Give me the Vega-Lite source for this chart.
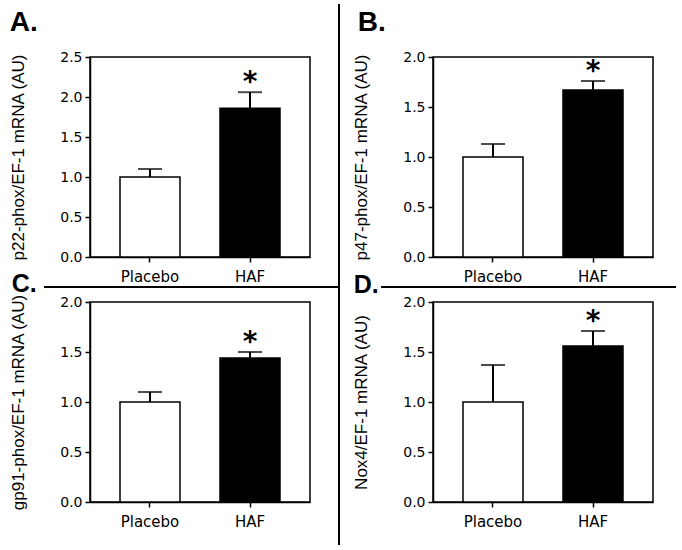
{
  "$schema": "https://vega.github.io/schema/vega-lite/v6.json",
  "padding": {"left": 8, "top": 3, "right": 5, "bottom": 5},
  "background": "white",
  "bounds": "flush",
  "columns": 3,
  "spacing": {"row": 15, "column": 29},
  "datasets": {
    "mrna": [
      {"panel": "A", "group": "Placebo", "mean": 1.0, "upper": 1.1},
      {"panel": "A", "group": "HAF", "mean": 1.86, "upper": 2.06},
      {"panel": "B", "group": "Placebo", "mean": 1.0, "upper": 1.13},
      {"panel": "B", "group": "HAF", "mean": 1.67, "upper": 1.76},
      {"panel": "C", "group": "Placebo", "mean": 1.0, "upper": 1.1},
      {"panel": "C", "group": "HAF", "mean": 1.44, "upper": 1.5},
      {"panel": "D", "group": "Placebo", "mean": 1.0, "upper": 1.37},
      {"panel": "D", "group": "HAF", "mean": 1.56, "upper": 1.71}
    ]
  },
  "concat": [
    {
      "title": {"text": "A.", "offset": 13, "dx": 0},
      "width": 220, "height": 200,
      "data": {"name": "mrna"},
      "transform": [{"filter": "datum.panel === 'A'"}],
      "encoding": {
        "x": {"field": "group", "type": "nominal", "sort": ["Placebo", "HAF"], "title": null, "scale": {"paddingInner": 0.4, "paddingOuter": 0.3}, "axis": {"labelAngle": 0}},
        "y": {"field": "mean", "type": "quantitative", "title": "p22-phox/EF-1 mRNA (AU)", "scale": {"domain": [0, 2.5], "nice": false}, "axis": {"values": [0, 0.5, 1, 1.5, 2, 2.5], "tickCount": 6, "format": ".1f", "labelOverlap": false}}
      },
      "layer": [
        {"mark": {"type": "bar", "stroke": "black", "strokeWidth": 1.5},
         "encoding": {"fill": {"field": "group", "type": "nominal", "scale": {"domain": ["Placebo", "HAF"], "range": ["#ffffff", "#000000"]}, "legend": null}}},
        {"mark": {"type": "rule", "strokeWidth": 2, "color": "black"}, "encoding": {"y2": {"field": "upper"}}},
        {"mark": {"type": "tick", "size": 24, "thickness": 2, "color": "black"}, "encoding": {"y": {"field": "upper", "type": "quantitative"}}},
        {"transform": [{"filter": "datum.group === 'HAF'"}], "mark": {"type": "text", "text": "*", "font": "DejaVu Sans", "fontWeight": "bold", "fontSize": 28, "baseline": "alphabetic", "dy": -1, "color": "black"}, "encoding": {"y": {"field": "upper", "type": "quantitative"}}}
      ]
    },
    {
      "width": 65, "height": 200,
      "view": {"stroke": null},
      "data": {"values": [{"x": 0, "y1": -1.44, "y2": 1.265}]},
      "mark": {"type": "rule", "strokeWidth": 2, "color": "black", "clip": false},
      "encoding": {
        "x": {"field": "x", "type": "quantitative", "scale": {"domain": [0, 1], "nice": false}, "axis": null},
        "y": {"field": "y1", "type": "quantitative", "scale": {"domain": [0, 1], "nice": false, "zero": false}, "axis": null},
        "y2": {"field": "y2"}
      }
    },
    {
      "title": {"text": "B.", "offset": 13, "dx": 5},
      "width": 220, "height": 200,
      "data": {"name": "mrna"},
      "transform": [{"filter": "datum.panel === 'B'"}],
      "encoding": {
        "x": {"field": "group", "type": "nominal", "sort": ["Placebo", "HAF"], "title": null, "scale": {"paddingInner": 0.4, "paddingOuter": 0.3}, "axis": {"labelAngle": 0}},
        "y": {"field": "mean", "type": "quantitative", "title": "p47-phox/EF-1 mRNA (AU)", "scale": {"domain": [0, 2.0], "nice": false}, "axis": {"values": [0, 0.5, 1, 1.5, 2], "format": ".1f", "labelOverlap": false}}
      },
      "layer": [
        {"mark": {"type": "bar", "stroke": "black", "strokeWidth": 1.5},
         "encoding": {"fill": {"field": "group", "type": "nominal", "scale": {"domain": ["Placebo", "HAF"], "range": ["#ffffff", "#000000"]}, "legend": null}}},
        {"mark": {"type": "rule", "strokeWidth": 2, "color": "black"}, "encoding": {"y2": {"field": "upper"}}},
        {"mark": {"type": "tick", "size": 24, "thickness": 2, "color": "black"}, "encoding": {"y": {"field": "upper", "type": "quantitative"}}},
        {"transform": [{"filter": "datum.group === 'HAF'"}], "mark": {"type": "text", "text": "*", "font": "DejaVu Sans", "fontWeight": "bold", "fontSize": 28, "baseline": "alphabetic", "dy": -1, "color": "black"}, "encoding": {"y": {"field": "upper", "type": "quantitative"}}}
      ]
    },
    {
      "width": 220, "height": 15,
      "view": {"stroke": null},
      "data": {"values": [{"x1": -0.209, "x2": 1.132, "y": 0}]},
      "mark": {"type": "rule", "strokeWidth": 2, "color": "black", "clip": false},
      "encoding": {
        "x": {"field": "x1", "type": "quantitative", "scale": {"domain": [0, 1], "nice": false, "zero": false}, "axis": null},
        "x2": {"field": "x2"},
        "y": {"field": "y", "type": "quantitative", "scale": {"domain": [0, 1], "nice": false}, "axis": null}
      }
    },
    {
      "width": 65, "height": 15,
      "view": {"stroke": null},
      "data": {"values": []},
      "mark": {"type": "rule", "clip": false},
      "encoding": {}
    },
    {
      "width": 220, "height": 15,
      "view": {"stroke": null},
      "data": {"values": [{"x1": -0.236, "x2": 1.105, "y": 0}]},
      "mark": {"type": "rule", "strokeWidth": 2, "color": "black", "clip": false},
      "encoding": {
        "x": {"field": "x1", "type": "quantitative", "scale": {"domain": [0, 1], "nice": false, "zero": false}, "axis": null},
        "x2": {"field": "x2"},
        "y": {"field": "y", "type": "quantitative", "scale": {"domain": [0, 1], "nice": false}, "axis": null}
      }
    },
    {
      "title": {"text": "C.", "offset": -3, "fontSize": 25, "dx": 2},
      "width": 220, "height": 200,
      "data": {"name": "mrna"},
      "transform": [{"filter": "datum.panel === 'C'"}],
      "encoding": {
        "x": {"field": "group", "type": "nominal", "sort": ["Placebo", "HAF"], "title": null, "scale": {"paddingInner": 0.4, "paddingOuter": 0.3}, "axis": {"labelAngle": 0}},
        "y": {"field": "mean", "type": "quantitative", "title": "gp91-phox/EF-1 mRNA (AU)", "scale": {"domain": [0, 2.0], "nice": false}, "axis": {"values": [0, 0.5, 1, 1.5, 2], "format": ".1f", "labelOverlap": false}}
      },
      "layer": [
        {"mark": {"type": "bar", "stroke": "black", "strokeWidth": 1.5},
         "encoding": {"fill": {"field": "group", "type": "nominal", "scale": {"domain": ["Placebo", "HAF"], "range": ["#ffffff", "#000000"]}, "legend": null}}},
        {"mark": {"type": "rule", "strokeWidth": 2, "color": "black"}, "encoding": {"y2": {"field": "upper"}}},
        {"mark": {"type": "tick", "size": 24, "thickness": 2, "color": "black"}, "encoding": {"y": {"field": "upper", "type": "quantitative"}}},
        {"transform": [{"filter": "datum.group === 'HAF'"}], "mark": {"type": "text", "text": "*", "font": "DejaVu Sans", "fontWeight": "bold", "fontSize": 28, "baseline": "alphabetic", "dy": -1, "color": "black"}, "encoding": {"y": {"field": "upper", "type": "quantitative"}}}
      ]
    },
    {
      "width": 65, "height": 200,
      "view": {"stroke": null},
      "data": {"values": []},
      "mark": {"type": "rule", "clip": false},
      "encoding": {}
    },
    {
      "title": {"text": "D.", "offset": -3, "fontSize": 25, "dx": 1},
      "width": 220, "height": 200,
      "data": {"name": "mrna"},
      "transform": [{"filter": "datum.panel === 'D'"}],
      "encoding": {
        "x": {"field": "group", "type": "nominal", "sort": ["Placebo", "HAF"], "title": null, "scale": {"paddingInner": 0.4, "paddingOuter": 0.3}, "axis": {"labelAngle": 0}},
        "y": {"field": "mean", "type": "quantitative", "title": "Nox4/EF-1 mRNA (AU)", "scale": {"domain": [0, 2.0], "nice": false}, "axis": {"values": [0, 0.5, 1, 1.5, 2], "format": ".1f", "labelOverlap": false}}
      },
      "layer": [
        {"mark": {"type": "bar", "stroke": "black", "strokeWidth": 1.5},
         "encoding": {"fill": {"field": "group", "type": "nominal", "scale": {"domain": ["Placebo", "HAF"], "range": ["#ffffff", "#000000"]}, "legend": null}}},
        {"mark": {"type": "rule", "strokeWidth": 2, "color": "black"}, "encoding": {"y2": {"field": "upper"}}},
        {"mark": {"type": "tick", "size": 24, "thickness": 2, "color": "black"}, "encoding": {"y": {"field": "upper", "type": "quantitative"}}},
        {"transform": [{"filter": "datum.group === 'HAF'"}], "mark": {"type": "text", "text": "*", "font": "DejaVu Sans", "fontWeight": "bold", "fontSize": 28, "baseline": "alphabetic", "dy": -1, "color": "black"}, "encoding": {"y": {"field": "upper", "type": "quantitative"}}}
      ]
    }
  ],
  "config": {
    "view": {"stroke": "black", "strokeWidth": 1.5},
    "axis": {"domainColor": "black", "domainWidth": 1.5, "tickColor": "black", "tickWidth": 1.5, "tickSize": 5, "labelColor": "black", "labelFont": "DejaVu Sans", "labelFontSize": 14, "titleFont": "Liberation Sans", "titleFontSize": 17, "titleFontWeight": "normal", "titleColor": "black", "grid": false},
    "axisX": {"labelPadding": 7, "labelFontSize": 15},
    "axisY": {"labelPadding": 3, "titlePadding": 32},
    "title": {"font": "Liberation Sans", "fontWeight": "bold", "fontSize": 28, "color": "black", "anchor": "start", "frame": "bounds", "baseline": "alphabetic"}
  }
}
